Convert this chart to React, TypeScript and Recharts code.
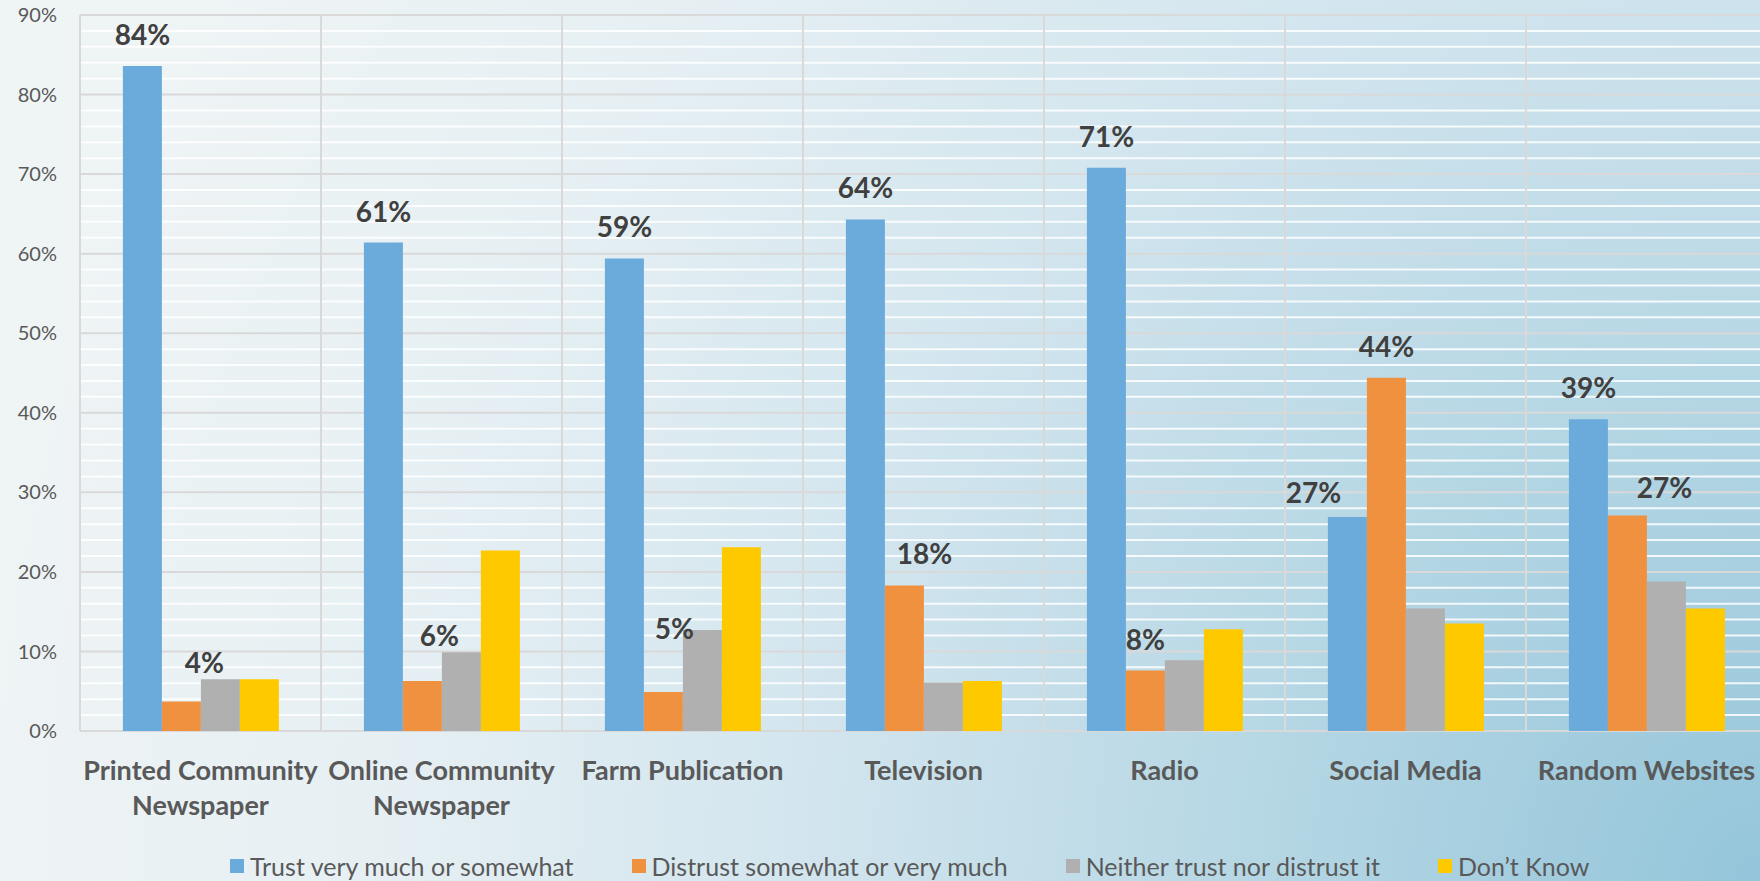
import React from "react";
import {
  BarChart,
  Bar,
  XAxis,
  YAxis,
  CartesianGrid,
  Legend,
  LabelList,
} from "recharts";

// categories (a "\n" marks where the tick label breaks)
const categories = [
  "Printed Community\nNewspaper",
  "Online Community\nNewspaper",
  "Farm Publication",
  "Television",
  "Radio",
  "Social Media",
  "Random Websites",
];

const trust = [83.6, 61.4, 59.4, 64.3, 70.8, 26.9, 39.2];
const distrust = [3.7, 6.3, 4.9, 18.3, 7.6, 44.4, 27.1];
const neither = [6.5, 9.9, 12.7, 6.1, 8.9, 15.4, 18.8];
const dontKnow = [6.5, 22.7, 23.1, 6.3, 12.8, 13.5, 15.4];

const yTicks = [0, 10, 20, 30, 40, 50, 60, 70, 80, 90];
const yMax = 90;
const minorTicks = Array.from({ length: 45 }, (_, i) => i * 2).filter((v) => v % 10 !== 0);

// the labels were dragged around by hand in the original; [dx, dy]
const trustNudge = [[0, 0], [0, 0], [0, 0], [0, 0], [0, 0], [-34, 7], [0, 0]];
const distrustNudge = [[23, -8], [17, -14], [11, -32], [20, 0], [0, 0], [0, 0], [37, 4]];

const series = [
  { key: "trust", name: "Trust very much or somewhat", color: "#6aabdc" },
  { key: "distrust", name: "Distrust somewhat or very much", color: "#f09140" },
  { key: "neither", name: "Neither trust nor distrust it", color: "#b0b0b0" },
  { key: "dontKnow", name: "Don\u2019t Know", color: "#ffc900" },
];

const data = categories.map((name, i) => ({
  name,
  trust: trust[i],
  distrust: distrust[i],
  neither: neither[i],
  dontKnow: dontKnow[i],
}));

const FONT = "Lato, 'Open Sans', sans-serif";

function makeLabel(nudge: number[][]) {
  return (props: any) => {
    const { x, y, width, value, index } = props;
    const [dx, dy] = nudge[index ?? 0] || [0, 0];
    return (
      <text
        x={Number(x) + Number(width) / 2 + dx}
        y={Number(y) - 21 + dy}
        textAnchor="middle"
        fontFamily={FONT}
        fontWeight={700}
        fontSize={28}
        fill="#404040"
      >
        {`${Math.round(Number(value))}%`}
      </text>
    );
  };
}

function CategoryTick(props: any) {
  const { x, y, payload } = props;
  const lines = String(payload.value).split("\n");
  return (
    <g transform={`translate(${x},${y})`}>
      {lines.map((line, i) => (
        <text
          key={i}
          x={0}
          y={41 + i * 35}
          textAnchor="middle"
          fontFamily={FONT}
          fontWeight={700}
          fontSize={27}
          fill="#595959"
        >
          {line}
        </text>
      ))}
    </g>
  );
}

function LegendRow() {
  return (
    <div
      style={{
        display: "flex",
        alignItems: "center",
        gap: 58,
        paddingLeft: 230,
        paddingTop: 10,
        height: 30,
        fontFamily: FONT,
        fontSize: 25,
        color: "#595959",
        whiteSpace: "nowrap",
      }}
    >
      {series.map((s) => (
        <div key={s.key} style={{ display: "flex", alignItems: "center", gap: 6 }}>
          <span style={{ width: 14, height: 14, background: s.color, display: "inline-block" }} />
          <span>{s.name}</span>
        </div>
      ))}
    </div>
  );
}

export default function App() {
  return (
    <div
      style={{
        width: 1760,
        height: 881,
        overflow: "hidden",
        position: "relative",
        background:
          "radial-gradient(circle at 100% 100%, #94c5da 0px, #b2d5e3 450px, #d2e5ee 950px, #e5eff3 1350px, #eff4f5 1800px)",
      }}
    >
      <style>{"body{margin:0}"}</style>
      <BarChart
        width={1767}
        height={881}
        data={data}
        margin={{ top: 15, right: 0, left: 0, bottom: 0 }}
        barCategoryGap="17.8%"
        barGap={0}
      >
        {/* minor lines every 2% */}
        <CartesianGrid
          stroke="#ffffff"
          strokeOpacity={0.85}
          strokeWidth={2}
          vertical={false}
          horizontalCoordinatesGenerator={({ offset }: any) =>
            minorTicks.map((v) => offset.top + offset.height * (1 - v / yMax))
          }
        />
        <CartesianGrid
          stroke="#d9d9d9"
          strokeWidth={2}
          verticalCoordinatesGenerator={({ offset }: any) =>
            Array.from({ length: categories.length + 1 }, (_, i) => offset.left + (i * offset.width) / categories.length)
          }
        />
        <XAxis
          dataKey="name"
          interval={0}
          height={110}
          axisLine={false}
          tickLine={false}
          tick={<CategoryTick />}
        />
        <YAxis
          domain={[0, yMax]}
          ticks={yTicks}
          width={80}
          axisLine={false}
          tickLine={false}
          tickSize={0}
          tickMargin={23}
          tickFormatter={(v) => `${v}%`}
          tick={{ fontSize: 20, fill: "#595959", fontFamily: FONT }}
        />
        <Legend
          verticalAlign="bottom"
          content={() => <LegendRow />}
          wrapperStyle={{ left: 0, bottom: 0, width: 1760, height: 40 }}
        />
        <Bar dataKey="trust" name={series[0].name} fill={series[0].color} isAnimationActive={false}>
          <LabelList dataKey="trust" content={makeLabel(trustNudge)} />
        </Bar>
        <Bar dataKey="distrust" name={series[1].name} fill={series[1].color} isAnimationActive={false}>
          <LabelList dataKey="distrust" content={makeLabel(distrustNudge)} />
        </Bar>
        <Bar dataKey="neither" name={series[2].name} fill={series[2].color} isAnimationActive={false} />
        <Bar dataKey="dontKnow" name={series[3].name} fill={series[3].color} isAnimationActive={false} />
      </BarChart>
    </div>
  );
}
